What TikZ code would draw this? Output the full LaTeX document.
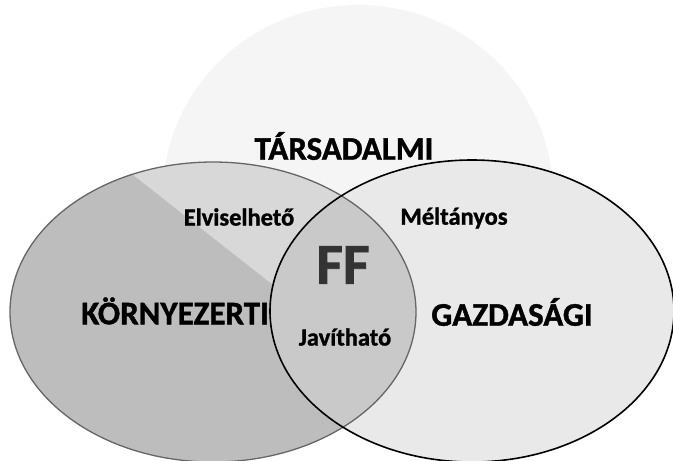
\documentclass[tikz,border=0pt]{standalone}
\usepackage{fontspec}
\setmainfont{Carlito}[BoldFeatures={FakeBold=1.2}]
\definecolor{leftfill}{HTML}{BDBDBD}
\definecolor{lightwedge}{HTML}{D8D8D8}
\definecolor{rightfill}{HTML}{E9E9E9}
\definecolor{lensfill}{HTML}{C9C9C9}
\definecolor{topfill}{HTML}{F5F5F5}
\definecolor{ffcol}{HTML}{333333}
\tikzset{
  biglabel/.style={font=\bfseries\fontsize{33}{37}\selectfont, text=black, inner sep=0pt},
  smalllabel/.style={font=\bfseries\fontsize{24.5}{28}\selectfont, text=black, inner sep=0pt},
  fflabel/.style={font=\bfseries\fontsize{58}{64}\selectfont, text=ffcol, inner sep=0pt},
  leftline/.style={draw=black!60, line width=1.3pt},
  rightline/.style={draw=black, line width=1.6pt}
}
\begin{document}
\begin{tikzpicture}[x=1pt,y=-1pt]
\useasboundingbox (0,0) rectangle (673,461);
\fill[white] (0,0) rectangle (673,461);
% faint top circle (TARSADALMI)
\fill[topfill] (358,195) ellipse [x radius=195, y radius=190];
% left ellipse
\fill[leftfill] (213,312) ellipse [x radius=203, y radius=150];
% lighter wedge inside left ellipse
\begin{scope}
  \clip (213,312) ellipse [x radius=203, y radius=150];
  \fill[lightwedge] (90,141) -- (310,314) -- (460,100) -- (90,100) -- cycle;
\end{scope}
% right ellipse
\fill[rightfill] (472,311) ellipse [x radius=202, y radius=151];
% lens
\begin{scope}
  \clip (213,312) ellipse [x radius=203, y radius=150];
  \fill[lensfill] (472,311) ellipse [x radius=202, y radius=151];
\end{scope}
% outlines
\draw[leftline] (213,312) ellipse [x radius=203, y radius=150];
\draw[rightline] (472,311) ellipse [x radius=202, y radius=151];
% labels
\node[biglabel] (tars) at (344,146) {TÁRSADALMI};
\node[smalllabel] (elv) at (239,217) {Elviselhető};
\node[smalllabel] (melt) at (454,218) {Méltányos};
\node[fflabel] (ff) at (343,265) {FF};
\node[biglabel] (korny) at (175,311) {KÖRNYEZERTI};
\node[biglabel] (gazd) at (512,312) {GAZDASÁGI};
\node[smalllabel] (jav) at (345,337) {Javítható};
\end{tikzpicture}
\end{document}
